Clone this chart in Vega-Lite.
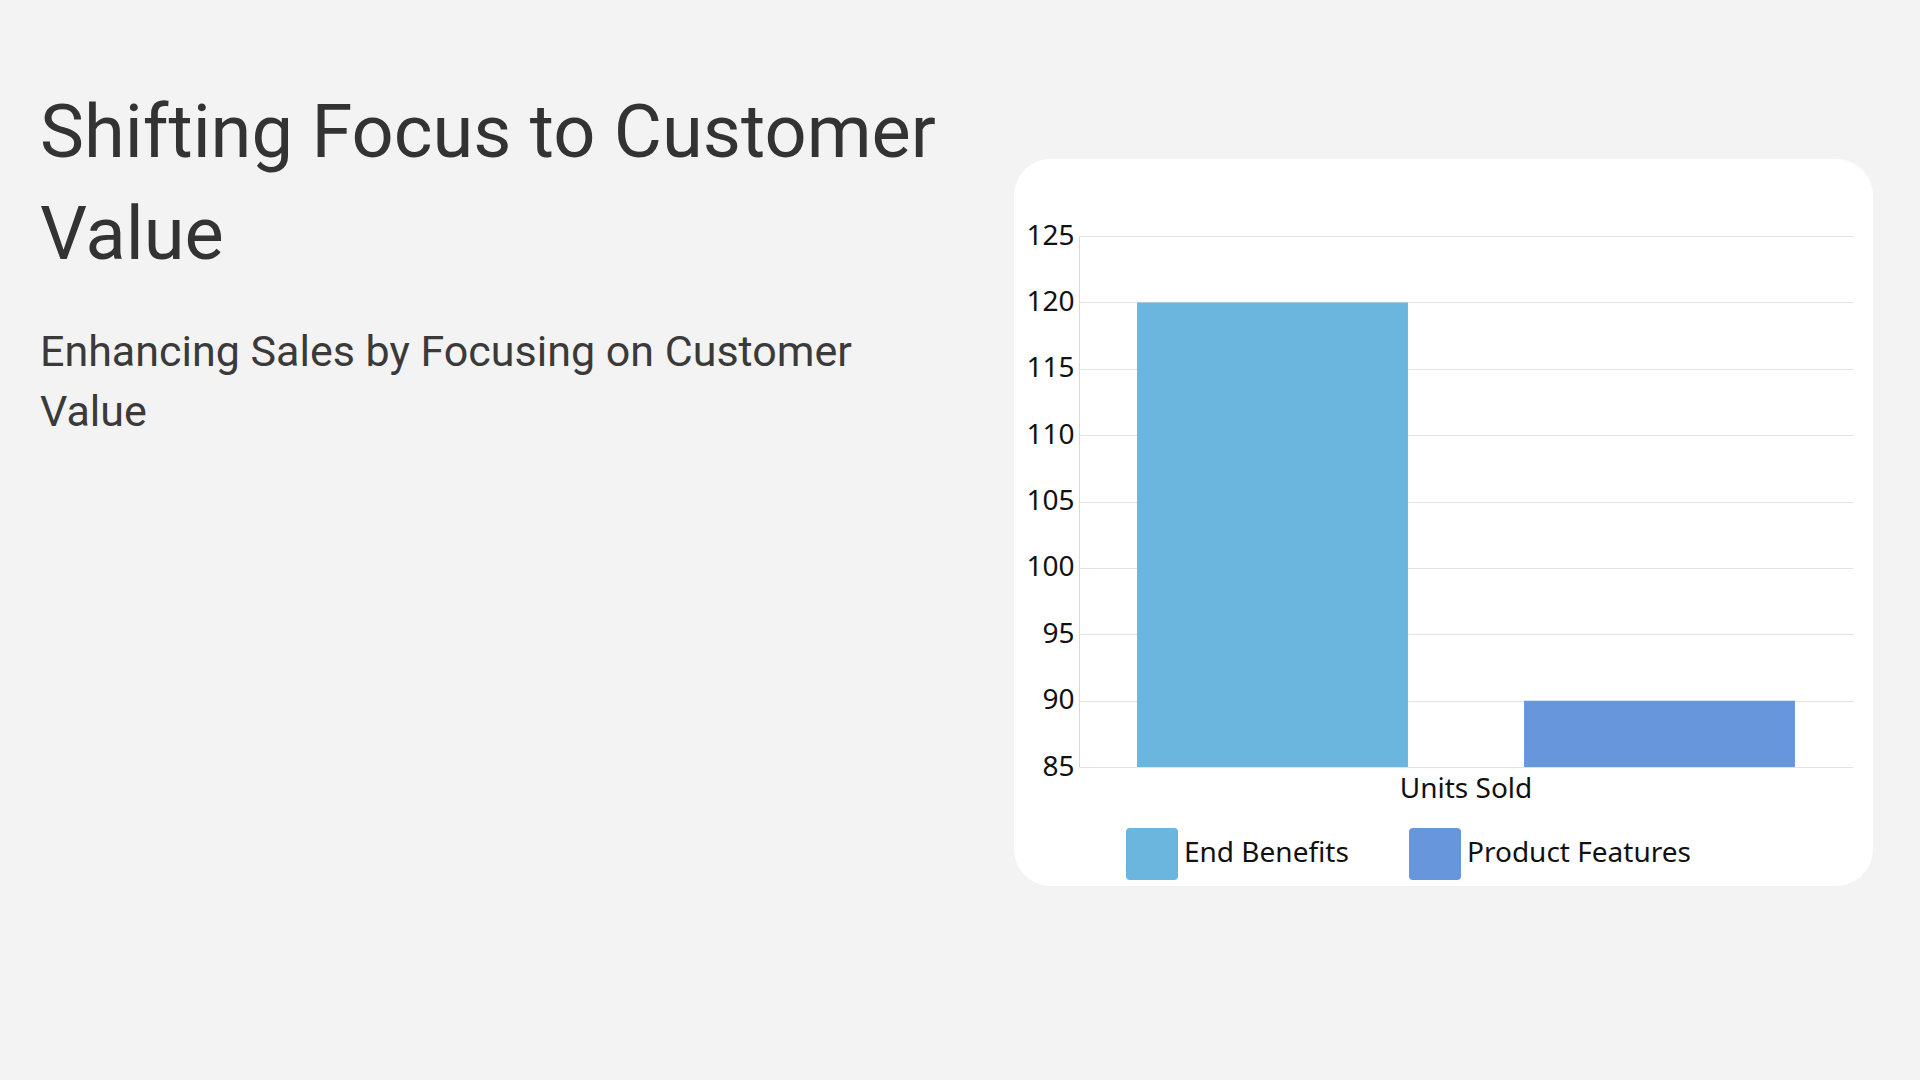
{
  "$schema": "https://vega.github.io/schema/vega-lite/v6.json",
  "autosize": "none",
  "width": 859,
  "height": 727,
  "padding": {"left": 1014, "top": 159, "right": 47, "bottom": 194},
  "background": "#f3f3f3",
  "title": {
    "text": ["Shifting Focus to Customer", "Value"],
    "subtitle": ["Enhancing Sales by Focusing on Customer", "Value"],
    "anchor": "start",
    "frame": "group",
    "orient": "top",
    "dx": -974,
    "offset": -277,
    "font": "Roboto",
    "fontSize": 74,
    "fontWeight": "normal",
    "color": "#333333",
    "lineHeight": 102,
    "subtitleFont": "Roboto",
    "subtitleFontSize": 43,
    "subtitleColor": "#3a3a3a",
    "subtitleLineHeight": 60,
    "subtitlePadding": 57
  },
  "config": {
    "view": {"fill": "white", "stroke": null, "cornerRadius": 37},
    "font": "Noto Sans"
  },
  "data": {
    "values": [
      {"metric": "Units Sold", "series": "End Benefits", "value": 120},
      {"metric": "Units Sold", "series": "Product Features", "value": 90}
    ]
  },
  "mark": {"type": "bar"},
  "encoding": {
    "x": {
      "field": "metric",
      "type": "nominal",
      "title": null,
      "scale": {"range": [65, 839], "paddingInner": 0, "paddingOuter": 0},
      "axis": {
        "offset": -119,
        "ticks": false,
        "domain": false,
        "grid": false,
        "labelAngle": 0,
        "labelFontSize": 28,
        "labelColor": "#111111",
        "labelPadding": 8
      }
    },
    "xOffset": {
      "field": "series",
      "type": "nominal",
      "scale": {"paddingInner": 0.3, "paddingOuter": 0.15}
    },
    "y": {
      "field": "value",
      "type": "quantitative",
      "stack": null,
      "title": null,
      "scale": {"domain": [85, 125], "range": [608, 77], "nice": false, "zero": false, "clamp": true},
      "axis": {
        "offset": -65,
        "values": [85, 90, 95, 100, 105, 110, 115, 120, 125],
        "ticks": false,
        "domainColor": "#d9d9d9",
        "gridColor": "#e3e3e3",
        "labelFontSize": 28,
        "labelColor": "#111111",
        "labelPadding": 5
      }
    },
    "color": {
      "field": "series",
      "type": "nominal",
      "scale": {"domain": ["End Benefits", "Product Features"], "range": ["#6ab6de", "#6896dc"]},
      "legend": {
        "title": null,
        "orient": "none",
        "direction": "horizontal",
        "legendX": 112,
        "legendY": 669,
        "padding": 0,
        "symbolType": "M -1 -0.85 Q -1 -1 -0.85 -1 L 0.85 -1 Q 1 -1 1 -0.85 L 1 0.85 Q 1 1 0.85 1 L -0.85 1 Q -1 1 -1 0.85 Z",
        "symbolSize": 2704,
        "symbolStrokeWidth": 0,
        "labelFontSize": 28,
        "labelColor": "#111111",
        "labelOffset": 6,
        "labelLimit": 400,
        "columnPadding": 60
      }
    }
  }
}
